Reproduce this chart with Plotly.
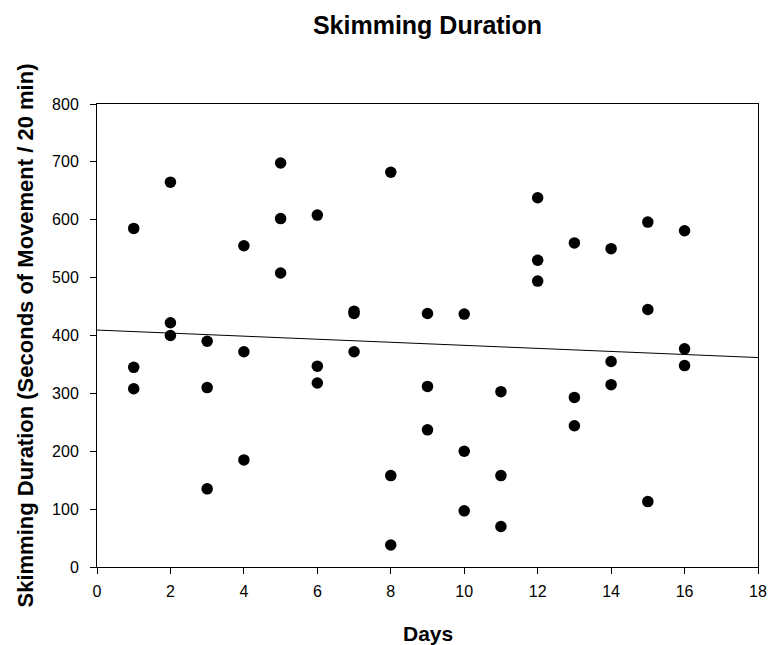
import numpy as np
import plotly.graph_objects as go

days = [1]*3 + [2]*3 + [3]*3 + [4]*3 + [5]*3 + [6]*3 + [7]*3 + [8]*3 + \
       [9]*3 + [10]*3 + [11]*3 + [12]*3 + [13]*3 + [14]*3 + [15]*3 + [16]*3
durations = [585, 345, 308,
             665, 422, 400,
             390, 310, 135,
             555, 372, 185,
             698, 602, 508,
             608, 347, 318,
             442, 438, 372,
             682, 158, 38,
             438, 312, 237,
             437, 200, 97,
             303, 158, 70,
             638, 530, 494,
             560, 293, 244,
             550, 355, 315,
             596, 445, 113,
             581, 377, 348]
x_ticks = [0, 2, 4, 6, 8, 10, 12, 14, 16, 18]
y_ticks = [0, 100, 200, 300, 400, 500, 600, 700, 800]

slope, intercept = np.polyfit(days, durations, 1)
trend_x = [0, 18]
trend_y = [intercept + slope * v for v in trend_x]

font = "Liberation Sans, Arial, sans-serif"
W, H = 771, 645
L, R, T, B = 97, 13, 104, 78
PW, PH = W - L - R, H - T - B
fig = go.Figure()
fig.add_trace(go.Scatter(x=trend_x, y=trend_y, mode="lines",
                         line=dict(color="black", width=1), showlegend=False))
fig.add_trace(go.Scatter(x=days, y=durations, mode="markers",
                         marker=dict(color="black", size=11.5), showlegend=False))

fig.update_layout(
    width=W, height=H,
    margin=dict(l=L, r=R, t=T, b=B),
    plot_bgcolor="white", paper_bgcolor="white",
    font=dict(family=font, color="black", size=16),
    title=dict(text="<b>Skimming Duration</b>", x=0.5, xref="paper",
               xanchor="center", yref="container", y=1 - 25 / H, yanchor="middle",
               font=dict(size=25, family=font, color="black")),
    xaxis=dict(range=[0, 18], tickvals=x_ticks, ticks="outside", ticklen=6,
               tickcolor="black", showline=True, linecolor="black", linewidth=1,
               mirror=True, showgrid=False, zeroline=False, automargin=False,
               ticklabelstandoff=4),
    yaxis=dict(range=[0, 800], tickvals=y_ticks, ticks="outside", ticklen=6,
               tickcolor="black", showline=True, linecolor="black", linewidth=1,
               mirror=True, showgrid=False, zeroline=False, automargin=False,
               ticklabelstandoff=8),
    annotations=[
        dict(text="<b>Days</b>", xref="paper", yref="paper",
             x=0.5, y=-(633 - (T + PH)) / PH, xanchor="center", yanchor="middle",
             showarrow=False, font=dict(size=21, family=font, color="black")),
        dict(text="<b>Skimming Duration (Seconds of Movement / 20 min)</b>",
             xref="paper", yref="paper", x=-(L - 25) / PW, y=0.5,
             xanchor="center", yanchor="middle", textangle=-90,
             showarrow=False, font=dict(size=22, family=font, color="black")),
    ],
)
fig.write_html("out.html", config={"displayModeBar": False},
               post_script="document.body.style.margin='0';")
